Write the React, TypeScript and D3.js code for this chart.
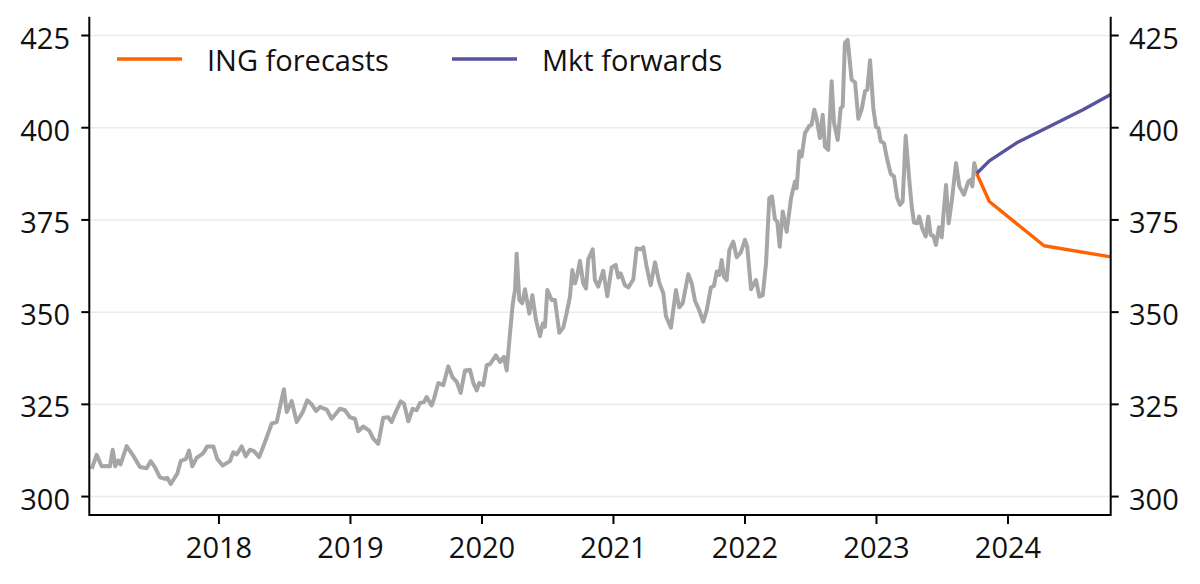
import * as d3 from 'd3';
import { useMemo } from 'react';

// weekly-ish history, decimal years
const histYears = [
  2017.032, 2017.07, 2017.108, 2017.146, 2017.171, 2017.192, 2017.211, 2017.234, 2017.252, 2017.298,
  2017.348, 2017.399, 2017.45, 2017.481, 2017.513, 2017.551, 2017.589, 2017.607, 2017.633, 2017.683,
  2017.709, 2017.749, 2017.772, 2017.797, 2017.83, 2017.881, 2017.911, 2017.957, 2017.987, 2018.028,
  2018.084, 2018.109, 2018.135, 2018.173, 2018.203, 2018.236, 2018.266, 2018.306, 2018.35, 2018.401,
  2018.439, 2018.464, 2018.494, 2018.515, 2018.553, 2018.591, 2018.637, 2018.671, 2018.705, 2018.738,
  2018.768, 2018.819, 2018.857, 2018.92, 2018.958, 2018.996, 2019.034, 2019.059, 2019.097, 2019.143,
  2019.173, 2019.211, 2019.249, 2019.287, 2019.313, 2019.344, 2019.382, 2019.407, 2019.44, 2019.473,
  2019.503, 2019.529, 2019.559, 2019.579, 2019.617, 2019.635, 2019.668, 2019.706, 2019.744, 2019.777,
  2019.808, 2019.838, 2019.871, 2019.909, 2019.934, 2019.96, 2019.979, 2020.01, 2020.036, 2020.061,
  2020.106, 2020.137, 2020.167, 2020.188, 2020.213, 2020.233, 2020.251, 2020.264, 2020.284, 2020.306,
  2020.327, 2020.36, 2020.383, 2020.411, 2020.441, 2020.462, 2020.479, 2020.497, 2020.53, 2020.555,
  2020.588, 2020.618, 2020.644, 2020.669, 2020.687, 2020.707, 2020.725, 2020.745, 2020.77, 2020.791,
  2020.808, 2020.842, 2020.859, 2020.884, 2020.922, 2020.953, 2020.986, 2021.017, 2021.037, 2021.055,
  2021.087, 2021.113, 2021.151, 2021.176, 2021.207, 2021.227, 2021.252, 2021.283, 2021.316, 2021.348,
  2021.379, 2021.399, 2021.437, 2021.475, 2021.5, 2021.526, 2021.569, 2021.595, 2021.62, 2021.652,
  2021.683, 2021.709, 2021.741, 2021.764, 2021.785, 2021.805, 2021.823, 2021.84, 2021.861, 2021.881,
  2021.911, 2021.937, 2021.967, 2022.0, 2022.017, 2022.046, 2022.084, 2022.109, 2022.135, 2022.16,
  2022.185, 2022.205, 2022.228, 2022.246, 2022.264, 2022.287, 2022.317, 2022.35, 2022.38, 2022.393,
  2022.413, 2022.431, 2022.456, 2022.489, 2022.507, 2022.527, 2022.545, 2022.57, 2022.591, 2022.608,
  2022.633, 2022.659, 2022.677, 2022.705, 2022.728, 2022.743, 2022.76, 2022.781, 2022.811, 2022.837,
  2022.862, 2022.887, 2022.913, 2022.93, 2022.951, 2022.976, 2022.996, 2023.014, 2023.032, 2023.057,
  2023.082, 2023.108, 2023.133, 2023.158, 2023.179, 2023.199, 2023.222, 2023.247, 2023.268, 2023.285,
  2023.31, 2023.325, 2023.348, 2023.374, 2023.394, 2023.412, 2023.432, 2023.452, 2023.475, 2023.496,
  2023.508, 2023.529, 2023.549, 2023.572, 2023.605, 2023.63, 2023.665, 2023.698, 2023.716, 2023.729,
  2023.744, 2023.762,
];
const histValues = [
  307.5, 311.3, 308.2, 308.3, 308.2, 312.7, 308.2, 309.8, 308.7, 313.7,
  311.1, 308.0, 307.7, 309.6, 308.0, 305.2, 304.8, 305.1, 303.4, 306.2,
  309.6, 310.2, 312.5, 308.2, 310.5, 311.8, 313.6, 313.6, 310.2, 308.4,
  309.6, 312.0, 311.4, 313.6, 310.9, 312.7, 312.3, 310.7, 314.8, 319.8,
  320.2, 324.3, 329.1, 322.9, 325.9, 320.2, 322.9, 326.1, 325.0, 323.2,
  324.3, 323.6, 321.1, 323.8, 323.4, 321.5, 321.1, 317.7, 319.0, 317.9,
  315.7, 314.3, 321.4, 321.5, 320.2, 322.9, 325.8, 325.2, 320.4, 323.8,
  323.4, 325.4, 325.6, 327.0, 324.7, 326.5, 330.8, 330.2, 335.3, 332.3,
  331.1, 328.1, 334.2, 334.4, 330.8, 328.8, 330.8, 330.2, 335.6, 335.9,
  338.3, 336.5, 337.9, 334.2, 344.2, 351.9, 356.0, 365.8, 353.3, 352.4,
  356.2, 349.6, 354.6, 347.8, 343.5, 346.9, 346.0, 356.0, 353.3, 353.3,
  344.4, 345.8, 349.8, 354.2, 361.4, 357.8, 360.1, 363.9, 357.8, 356.4,
  364.3, 367.0, 358.7, 356.9, 361.2, 354.3, 362.1, 362.8, 359.4, 360.5,
  357.3, 356.7, 358.9, 367.3, 367.0, 367.6, 362.3, 357.3, 363.5, 358.0,
  355.1, 348.9, 345.8, 356.0, 351.3, 352.4, 360.3, 357.8, 353.1, 350.5,
  347.4, 350.5, 356.7, 357.1, 361.0, 360.1, 364.1, 359.6, 358.7, 366.8,
  369.1, 364.9, 366.1, 369.6, 367.7, 356.2, 358.7, 354.2, 354.6, 363.2,
  380.9, 381.4, 375.2, 374.5, 367.7, 377.3, 371.8, 380.8, 385.4, 383.6,
  393.6, 392.2, 398.5, 400.5, 400.8, 404.9, 402.4, 397.2, 403.5, 394.9,
  394.0, 412.6, 401.3, 396.7, 405.3, 405.8, 423.0, 423.8, 413.0, 412.3,
  402.4, 404.9, 409.9, 410.3, 418.3, 405.3, 400.2, 399.9, 396.3, 395.8,
  391.3, 387.5, 386.8, 380.9, 379.1, 380.0, 397.8, 386.8, 378.6, 374.3,
  374.1, 375.9, 372.7, 370.5, 375.9, 370.9, 370.7, 368.2, 373.0, 370.3,
  375.9, 384.5, 374.1, 380.0, 390.4, 384.1, 381.8, 385.4, 385.9, 384.1,
  390.4, 387.6,
];

const ingYears = [2023.762, 2023.858, 2024.274, 2024.781];
const ingValues = [387.6, 380.0, 368.0, 365.0];

const fwdYears = [2023.762, 2023.858, 2024.066, 2024.319, 2024.57, 2024.781];
const fwdValues = [387.6, 391.0, 395.9, 400.4, 404.9, 409.0];

const yTicks = [300, 325, 350, 375, 400, 425];
const xTicks = [2018, 2019, 2020, 2021, 2022, 2023, 2024];

const legendItems = [
  { label: 'ING forecasts', color: '#ff6200' },
  { label: 'Mkt forwards', color: '#57539f' },
];

const W = 1200;
const H = 584;
const FONT = '"Open Sans", "Noto Sans", sans-serif';

export default function App() {
  const x = useMemo(
    () => d3.scaleLinear().domain([2017.014, 2024.781]).range([89.3, 1110.7]),
    []
  );
  const y = useMemo(
    () => d3.scaleLinear().domain([295, 430.1]).range([515, 16.7]),
    []
  );

  const line = d3
    .line<[number, number]>()
    .x((d) => x(d[0]))
    .y((d) => y(d[1]));

  const histPath = line(histYears.map((t, i) => [t, histValues[i]]));
  const ingPath = line(ingYears.map((t, i) => [t, ingValues[i]]));
  const fwdPath = line(fwdYears.map((t, i) => [t, fwdValues[i]]));

  const [x0, x1] = x.range();
  const [yBottom, yTop] = y.range();

  return (
    <svg
      width={W}
      height={H}
      style={{ position: 'absolute', left: 0, top: 0, background: '#fff' }}
      fontFamily={FONT}
    >
      {/* gridlines */}
      {yTicks.map((t) => (
        <line key={'g' + t} x1={x0} x2={x1} y1={y(t)} y2={y(t)} stroke='#ebebeb' strokeWidth={1.5} />
      ))}

      <path d={histPath ?? ''} fill='none' stroke='#a6a6a6' strokeWidth={4} strokeLinejoin='round' />
      <path d={ingPath ?? ''} fill='none' stroke='#ff6200' strokeWidth={3.4} strokeLinejoin='round' />
      <path d={fwdPath ?? ''} fill='none' stroke='#57539f' strokeWidth={3.4} strokeLinejoin='round' />

      {/* axes */}
      <g stroke='#000' strokeWidth={2}>
        <line x1={x0} x2={x0} y1={yTop} y2={yBottom + 1} />
        <line x1={x1} x2={x1} y1={yTop} y2={yBottom + 1} />
        <line x1={x0} x2={x1} y1={yBottom} y2={yBottom} />
        {yTicks.map((t) => (
          <g key={'t' + t}>
            <line x1={x0 - 8} x2={x0} y1={y(t)} y2={y(t)} />
            <line x1={x1} x2={x1 + 8} y1={y(t)} y2={y(t)} />
          </g>
        ))}
        {xTicks.map((t) => (
          <line key={'xt' + t} x1={x(t)} x2={x(t)} y1={yBottom} y2={yBottom + 9} />
        ))}
      </g>

      <g fontSize={29} fill='#111'>
        {yTicks.map((t) => (
          <g key={'l' + t}>
            <text x={70} y={y(t) + 13} textAnchor='end'>{t}</text>
            <text x={1129} y={y(t) + 13}>{t}</text>
          </g>
        ))}
        {xTicks.map((t) => (
          <text key={'xl' + t} x={x(t)} y={558} textAnchor='middle'>{t}</text>
        ))}
      </g>

      {/* legend */}
      {legendItems.map((item, i) => {
        const lx = i === 0 ? 117 : 452;
        return (
          <g key={item.label}>
            <line x1={lx} x2={lx + 65} y1={59} y2={59} stroke={item.color} strokeWidth={3.5} />
            <text x={lx + 90} y={71} fontSize={29} fill='#111'>{item.label}</text>
          </g>
        );
      })}
    </svg>
  );
}
